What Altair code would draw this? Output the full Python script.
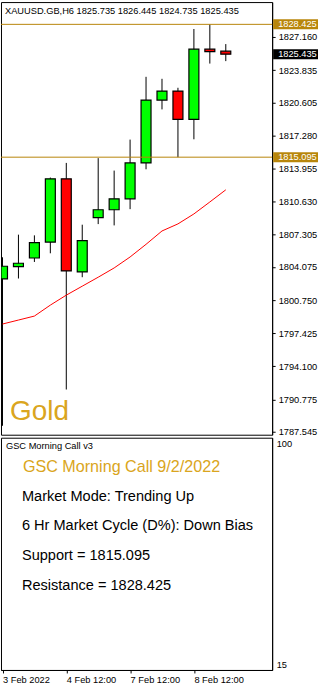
import altair as alt
import pandas as pd

# ---------------- data ----------------
candle_idx = list(range(15))
opens  = [1802.88, 1804.12, 1804.98, 1806.58, 1812.92, 1803.58, 1809.02, 1809.82,
          1810.92, 1814.52, 1820.83, 1821.73, 1818.89, 1825.93, 1825.735]
highs  = [1805.05, 1807.32, 1807.25, 1813.05, 1814.52, 1808.32, 1815.00, 1813.75,
          1816.86, 1823.16, 1822.96, 1822.06, 1827.96, 1828.425, 1826.445]
lows   = [1788.14, 1802.92, 1804.58, 1805.45, 1791.78, 1803.05, 1808.38, 1808.25,
          1809.88, 1813.88, 1819.89, 1815.095, 1816.89, 1824.49, 1824.735]
closes = [1804.15, 1804.45, 1806.52, 1812.92, 1803.68, 1806.72, 1809.82, 1810.92,
          1814.52, 1820.83, 1821.73, 1818.89, 1825.93, 1825.69, 1825.435]
ma_values = [1798.35, 1798.75, 1799.15, 1800.25, 1801.25, 1802.15, 1803.05, 1803.98,
             1805.08, 1806.35, 1807.69, 1808.40, 1809.40, 1810.60, 1811.82]

price_ticks = [1827.160, 1823.835, 1820.605, 1817.280, 1813.955, 1810.630, 1807.305,
               1804.075, 1800.750, 1797.425, 1794.100, 1790.775, 1787.545]
resistance = 1828.425
support = 1815.095
last_close = 1825.435

x_tick_idx = [0, 4, 8, 12]
x_tick_labels = ["3 Feb 2022", "4 Feb 12:00", "7 Feb 12:00", "8 Feb 12:00"]

sub_levels = [15, 100]
symbol = "XAUUSD.GB,H6"
big_label = "Gold"
panel_name = "GSC Morning Call v3"
panel_title = "GSC Morning Call 9/2/2022"
panel_lines = [
    "Market Mode: Trending Up",
    "6 Hr Market Cycle (D%): Down Bias",
    "Support = 1815.095",
    "Resistance = 1828.425",
]

# ---------------- styling ----------------
FONT = "Liberation Sans"
GOLD_LINE = "#B8860B"
GOLD_TEXT = "#DAA520"
W = 272
H_TOP = 434
H_BOT = 233
X_MIN = -1.5 / 16
X_MAX = (W - 1.5) / 16
HALF_BODY = 5 / 16

candles = pd.DataFrame({
    "i": candle_idx, "open": opens, "high": highs, "low": lows, "close": closes,
    "ma": ma_values,
})
candles["dir"] = ["up" if c >= o else "down" for o, c in zip(opens, closes)]

x_scale = alt.Scale(domain=[X_MIN, X_MAX], nice=False, zero=False, padding=0)
p_scale = alt.Scale(domain=[1787.244, 1830.661], nice=False, zero=False, padding=0)

y_axis = alt.Axis(orient="right", values=price_ticks, format=".3f", labelFont=FONT,
                  labelFontSize=9.3, labelColor="black", tickColor="black", tickSize=3,
                  labelPadding=3, domainColor="black", grid=False, title=None,
                  labelOverlap=False, labelFlush=False)

X = alt.X("i:Q", scale=x_scale, axis=None)

wicks = alt.Chart(candles).mark_rule(color="black", strokeWidth=1, clip=True).encode(
    x=X, y=alt.Y("low:Q", scale=p_scale, axis=y_axis), y2="high:Q")

bodies = alt.Chart(candles).transform_calculate(
    xl=f"max(datum.i - {HALF_BODY}, {X_MIN})",
    xr=f"datum.i + {HALF_BODY}",
).mark_bar(stroke="black", strokeWidth=1.2, clip=True).encode(
    x=alt.X("xl:Q", scale=x_scale, axis=None), x2="xr:Q",
    y=alt.Y("open:Q", scale=p_scale, axis=y_axis), y2="close:Q",
    color=alt.Color("dir:N", scale=alt.Scale(domain=["up", "down"], range=["#00FF00", "#FF0000"]),
                    legend=None))

ma_line = alt.Chart(candles).mark_line(color="#FF0000", strokeWidth=1, clip=True).encode(
    x=X, y=alt.Y("ma:Q", scale=p_scale, axis=y_axis))

levels = pd.DataFrame({"level": [resistance, support]})
level_rules = alt.Chart(levels).mark_rule(color=GOLD_LINE, strokeWidth=1).encode(
    y=alt.Y("level:Q", scale=p_scale, axis=y_axis))

tags = pd.DataFrame({
    "price": [resistance, last_close, support],
    "bg": [GOLD_LINE, "#000000", GOLD_LINE],
})
tags["label"] = [f"{p:.3f}" for p in tags["price"]]
tag_boxes = alt.Chart(tags).mark_bar(orient="horizontal", size=10).encode(
    y=alt.Y("price:Q", scale=p_scale, axis=y_axis),
    x=alt.value(273), x2=alt.value(318),
    color=alt.Color("bg:N", scale=None))
tag_text = alt.Chart(tags).mark_text(align="left", baseline="middle", color="white",
                                     font=FONT, fontSize=9.3).encode(
    y=alt.Y("price:Q", scale=p_scale, axis=y_axis), x=alt.value(278), text="label:N")

header = pd.DataFrame({"t": [f"{symbol}  {opens[-1]:.3f} {highs[-1]:.3f} {lows[-1]:.3f} {closes[-1]:.3f}"]})
header_text = alt.Chart(header).mark_text(align="left", baseline="middle", color="black",
                                          font=FONT, fontSize=9.3).encode(
    x=alt.value(4), y=alt.value(9), text="t:N")

gold_df = pd.DataFrame({"t": [big_label]})
gold_text = alt.Chart(gold_df).mark_text(align="left", baseline="alphabetic", color=GOLD_TEXT,
                                         font=FONT, fontSize=28).encode(
    x=alt.value(9), y=alt.value(419), text="t:N")

top = alt.layer(wicks, bodies, ma_line, level_rules, tag_boxes, tag_text, header_text,
                gold_text).properties(width=W, height=H_TOP)

# ---------------- lower panel ----------------
label_expr = " : ".join(
    f"datum.value == {v} ? '{l}'" for v, l in zip(x_tick_idx, x_tick_labels)) + " : ''"
x_axis = alt.Axis(values=x_tick_idx, labelExpr=label_expr, labelAlign="left", labelFont=FONT,
                  labelFontSize=9.3, labelColor="black", tickColor="black", tickSize=3,
                  labelPadding=3, domainColor="black", grid=False, title=None,
                  labelOverlap=False, labelFlush=False)
sub_scale = alt.Scale(domain=[12.7, 102.3], nice=False, zero=False)
sub_axis = alt.Axis(orient="right", values=sub_levels, format="d", labelFont=FONT,
                    labelFontSize=9.3, labelColor="black", tickSize=0, labelPadding=4,
                    domainColor="black", grid=False, title=None, labelFlush=False)

xt = pd.DataFrame({"pos": x_tick_idx})
x_holder = alt.Chart(xt).mark_point(opacity=0, size=1).encode(
    x=alt.X("pos:Q", scale=x_scale, axis=x_axis))
yl = pd.DataFrame({"lvl": sub_levels})
y_holder = alt.Chart(yl).mark_point(opacity=0, size=1).encode(
    y=alt.Y("lvl:Q", scale=sub_scale, axis=sub_axis))

name_text = alt.Chart(pd.DataFrame({"t": [panel_name]})).mark_text(
    align="left", baseline="middle", color="black", font=FONT, fontSize=9.3).encode(
    x=alt.value(5), y=alt.value(8), text="t:N")
title_text = alt.Chart(pd.DataFrame({"t": [panel_title]})).mark_text(
    align="left", baseline="middle", color=GOLD_TEXT, font=FONT, fontSize=16.2).encode(
    x=alt.value(22), y=alt.value(29), text="t:N")

line_layers = []
for k, line in enumerate(panel_lines):
    line_layers.append(
        alt.Chart(pd.DataFrame({"t": [line]})).mark_text(
            align="left", baseline="middle", color="black", font=FONT, fontSize=14.6).encode(
            x=alt.value(21), y=alt.value(59 + 30 * k), text="t:N"))

bottom = alt.layer(x_holder, y_holder, name_text, title_text, *line_layers).properties(
    width=W, height=H_BOT)

chart = alt.vconcat(top, bottom, spacing=3, bounds="flush").properties(
    padding=0, background="white").configure_view(stroke="black", strokeWidth=1)

chart.save("out.html", embed_options={"renderer": "svg", "actions": False})
